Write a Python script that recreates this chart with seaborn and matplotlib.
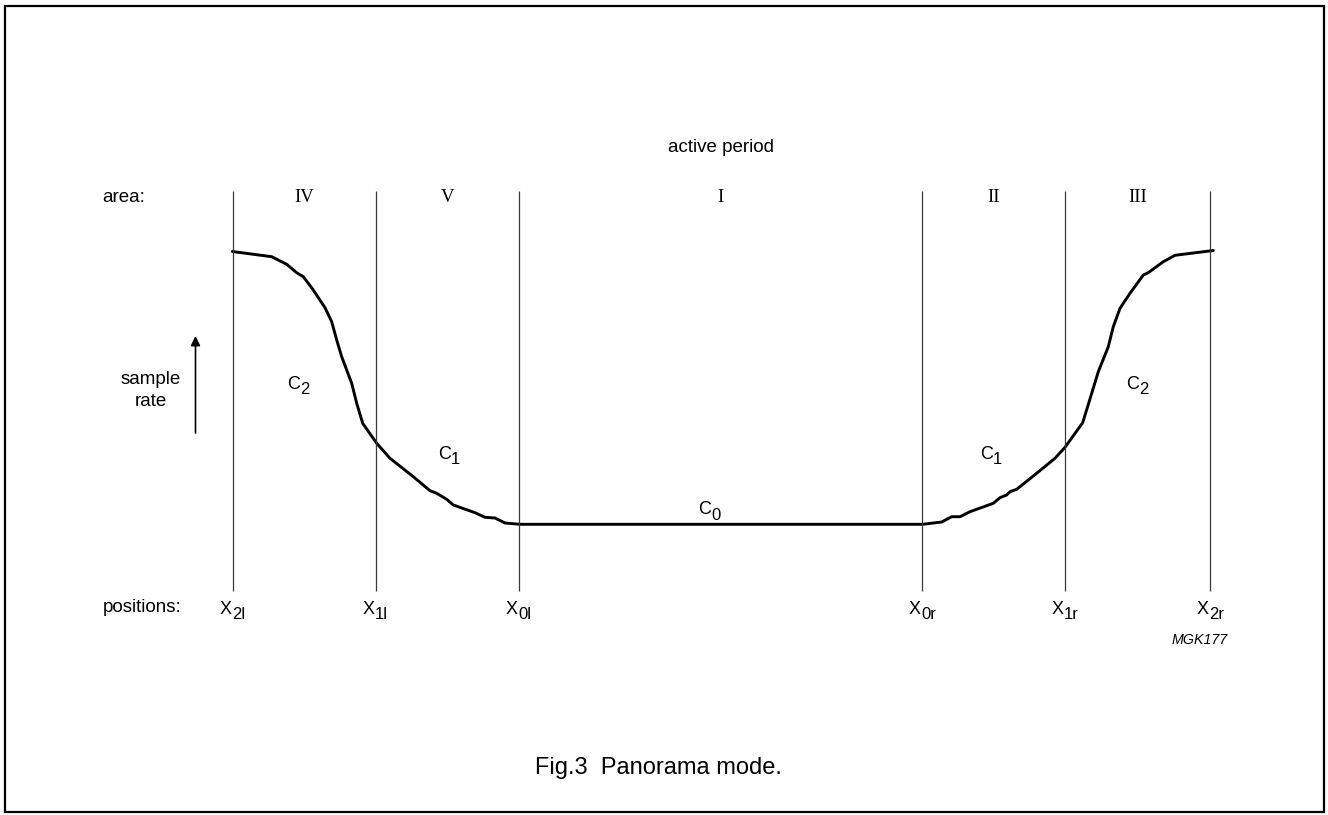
import numpy as np
import pandas as pd
import seaborn as sns
import matplotlib
matplotlib.use("Agg")
import matplotlib.pyplot as plt
from matplotlib.patches import Rectangle

# ---------------- data (pixel-like units) ----------------
# boundary positions of the areas (x) and their labels (main letter, subscript)
position_x = [233, 376, 519, 922, 1065, 1210]
position_subs = ["2l", "1l", "0l", "0r", "1r", "2r"]
area_labels = ["IV", "V", "I", "II", "III"]

# sample-rate curve (picture units, y grows downward => lower rate)
curve_x = [232.3, 271.7, 286.7, 296.7, 303.3, 313.3, 325.0, 331.7, 336.7, 341.7,
           351.7, 356.7, 362.7, 376.7, 390.0, 413.3, 430.0, 436.7, 446.7, 453.3,
           475.0, 485.0, 495.0, 505.0, 520.0,
           922.7, 941.7, 951.7, 960.0, 970.0, 993.3, 1000.0, 1006.7, 1010.0, 1016.7,
           1033.3, 1055.0, 1065.0, 1082.7, 1091.7, 1098.3, 1108.3, 1113.3, 1120.0,
           1130.0, 1143.3, 1148.3, 1163.3, 1175.0, 1213.3]
curve_y = [251.5, 256.7, 264.3, 272.7, 276.7, 290.0, 307.7, 321.7, 340.0, 356.7,
           383.3, 403.3, 423.3, 443.3, 458.3, 476.7, 490.7, 493.3, 499.3, 505.0,
           512.7, 517.3, 518.0, 523.0, 524.3,
           524.3, 522.0, 516.7, 516.7, 511.7, 503.3, 497.7, 495.0, 491.7, 489.3,
           476.0, 458.3, 447.3, 422.7, 393.3, 371.7, 346.7, 326.7, 308.3,
           293.3, 275.0, 272.7, 261.7, 255.3, 250.5]

curve_label_subs = ["2", "1", "0", "1", "2"]

# ---------------- style ----------------
sns.set_theme(style="white")
plt.rcParams["font.family"] = ["Liberation Sans", "DejaVu Sans"]
plt.rcParams["text.color"] = "black"

W, H = 1328, 815
fig = plt.figure(figsize=(W / 100, H / 100), dpi=100)
ax = fig.add_axes([0, 0, 1, 1])

# curve
df = pd.DataFrame({"x": curve_x, "y": curve_y})
sns.lineplot(data=df, x="x", y="y", ax=ax, color="black", lw=2.1, sort=False,
             estimator=None)
ax.set_xlim(0, W)
ax.set_ylim(H, 0)
ax.axis("off")

# frame
ax.add_patch(Rectangle((5, 6), 1319, 806, fill=False, lw=1.6, edgecolor="black"))

# vertical boundary lines
ax.vlines(position_x, 191, 591, colors="#3a3a3a", lw=0.9)

fs = 13.5


def sub_label(xsplit, y, main, sub, fs_main=13, fs_sub=12, dy=5.5):
    ax.text(xsplit, y, main, ha="right", va="center", fontsize=fs_main, color="black")
    ax.text(xsplit, y + dy, sub, ha="left", va="center", fontsize=fs_sub, color="black")


# texts
ax.text(721, 148, "active period", ha="center", va="center", fontsize=fs)
ax.text(102, 197, "area:", ha="left", va="center", fontsize=fs)
centers = [(position_x[i] + position_x[i + 1]) / 2 for i in range(5)]
for cx, lab in zip(centers, area_labels):
    ax.text(cx, 197, lab, ha="center", va="center", fontsize=fs,
            family="Liberation Serif")

ax.text(103, 608, "positions:", ha="left", va="center", fontsize=fs)
for px, sub in zip(position_x, position_subs):
    sub_label(px - 1, 609, "X", sub)

# curve labels
clab_pos = [(300, 384.5), (451, 454.5), (711, 510), (993, 454.5), (1139, 384.5)]
for (cx, cy), sub in zip(clab_pos, curve_label_subs):
    sub_label(cx, cy, "C", sub)

# sample rate arrow + label
ax.annotate("", xy=(195.5, 336), xytext=(195.5, 433),
            arrowprops=dict(arrowstyle="-|>", lw=1.2, color="black",
                            mutation_scale=14, shrinkA=0, shrinkB=0))
ax.text(151, 379, "sample", ha="center", va="center", fontsize=fs)
ax.text(151, 401, "rate", ha="center", va="center", fontsize=fs)

ax.text(1200, 640, "MGK177", ha="center", va="center", fontsize=10.3, style="italic")
ax.text(535, 768, "Fig.3  Panorama mode.", ha="left", va="center", fontsize=17)

fig.savefig("out.png", dpi=100)
